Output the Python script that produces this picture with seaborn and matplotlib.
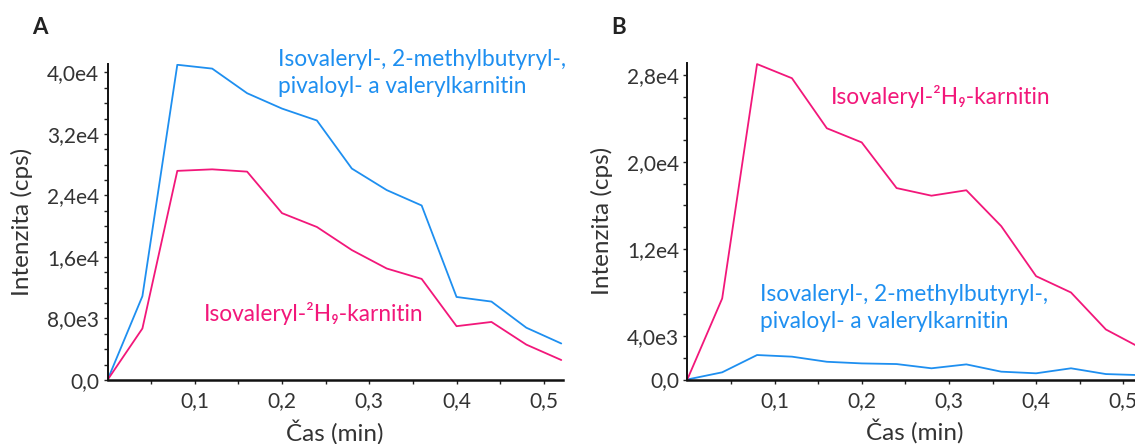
import numpy as np
import pandas as pd
import matplotlib
matplotlib.use("Agg")
import matplotlib.pyplot as plt
from matplotlib.ticker import FixedLocator, FuncFormatter
import seaborn as sns

# Sampling times (min)
time_min = [0.00, 0.04, 0.08, 0.12, 0.16, 0.20, 0.24, 0.28, 0.32, 0.36, 0.40, 0.44, 0.48, 0.52]

# Panel A intensities (cps)
a_unlabeled = [0, 10.9e3, 41.0e3, 40.5e3, 37.3e3, 35.3e3, 33.75e3, 27.5e3, 24.7e3, 22.7e3,
               10.8e3, 10.2e3, 6.8e3, 4.75e3]
a_labeled = [0, 6.7e3, 27.2e3, 27.4e3, 27.1e3, 21.7e3, 19.9e3, 16.9e3, 14.5e3, 13.15e3,
             7.0e3, 7.55e3, 4.6e3, 2.6e3]

# Panel B intensities (cps)
b_labeled = [0, 7.45e3, 29.0e3, 27.7e3, 23.1e3, 21.8e3, 17.6e3, 16.9e3, 17.4e3, 14.1e3,
             9.5e3, 8.0e3, 4.6e3, 2.9e3]
b_unlabeled = [0, 0.66e3, 2.25e3, 2.1e3, 1.63e3, 1.48e3, 1.42e3, 1.03e3, 1.39e3, 0.72e3,
               0.57e3, 1.03e3, 0.5e3, 0.4e3]

series_unlabeled = "Isovaleryl-, 2-methylbutyryl-,\npivaloyl- a valerylkarnitin"
series_labeled = "Isovaleryl-²H₉-karnitin"

a_yticks = [0, 8e3, 16e3, 24e3, 32e3, 40e3]
b_yticks = [0, 4e3, 12e3, 20e3, 28e3]
x_ticks = [0.1, 0.2, 0.3, 0.4, 0.5]

BLUE = "#1e8ff0"
PINK = "#f2177a"
TEXT = "#333333"
FAMILY = ["Lato", "DejaVu Sans"]

sns.set_theme(style="ticks")
plt.rcParams["font.family"] = FAMILY


def sci_comma(v, pos=None):
    if abs(v) < 1e-9:
        return "0,0"
    exp = int(np.floor(np.log10(abs(v))))
    mant = v / 10 ** exp
    return f"{mant:.1f}e{exp}".replace(".", ",")


def dec_comma(v, pos=None):
    return f"{v:.1f}".replace(".", ",")


def make_frame(unlabeled, labeled):
    return pd.concat([
        pd.DataFrame({"t": time_min, "y": unlabeled, "s": "unlabeled"}),
        pd.DataFrame({"t": time_min, "y": labeled, "s": "labeled"}),
    ], ignore_index=True)


fig = plt.figure(figsize=(11.35, 4.44), dpi=100)
W, H = 1135, 444


def add_axes(left, right, top, bottom):
    return fig.add_axes([left / W, 1 - bottom / H, (right - left) / W, (bottom - top) / H])


ax_a = add_axes(107.5, 563.0, 64.0, 380.0)
ax_b = add_axes(687.3, 1142.5, 63.0, 379.5)

palette = {"unlabeled": BLUE, "labeled": PINK}

for ax, df, ylim, yticks in [
    (ax_a, make_frame(a_unlabeled, a_labeled), (0, 41.1e3), a_yticks),
    (ax_b, make_frame(b_unlabeled, b_labeled), (0, 29.1e3), b_yticks),
]:
    sns.lineplot(data=df, x="t", y="y", hue="s", palette=palette, ax=ax,
                 legend=False, linewidth=1.3, estimator=None, sort=False)
    ax.set_xlim(0, 0.522)
    ax.set_ylim(*ylim)
    ax.xaxis.set_major_locator(FixedLocator(x_ticks))
    ax.xaxis.set_minor_locator(FixedLocator([0.05, 0.15, 0.25, 0.35, 0.45]))
    ax.yaxis.set_major_locator(FixedLocator(yticks))
    ax.yaxis.set_minor_locator(FixedLocator(np.arange(0, ylim[1], 2e3)))
    ax.xaxis.set_major_formatter(FuncFormatter(dec_comma))
    ax.yaxis.set_major_formatter(FuncFormatter(sci_comma))
    ax.tick_params(which="both", direction="out", length=3, width=1, color="#222222",
                   labelsize=15, labelcolor=TEXT, pad=3)
    ax.tick_params(axis="x", which="major", pad=5)
    sns.despine(ax=ax)
    ax.spines["left"].set_linewidth(1.4)
    ax.spines["bottom"].set_linewidth(1.8)
    ax.spines["left"].set_color("#111111")
    ax.spines["bottom"].set_color("#111111")
    ax.set_xlabel("Čas (min)", fontsize=17.5, color=TEXT, labelpad=6)
    ax.set_ylabel("Intenzita (cps)", fontsize=17.5, color=TEXT, labelpad=10)
    ax.set_facecolor("white")

# Series labels
fig.text(278 / W, 1 - 73 / H, series_unlabeled, fontsize=16.3, color=BLUE,
         va="center", ha="left", linespacing=1.3, family=FAMILY)
fig.text(204 / W, 1 - 313 / H, series_labeled, fontsize=16.3, color=PINK,
         va="center", ha="left", family=FAMILY)
fig.text(831 / W, 1 - 97 / H, series_labeled, fontsize=16.3, color=PINK,
         va="center", ha="left", family=FAMILY)
fig.text(760 / W, 1 - 308 / H, series_unlabeled, fontsize=16.3, color=BLUE,
         va="center", ha="left", linespacing=1.3, family=FAMILY)

# Panel letters
fig.text(40 / W, 1 - 27 / H, "A", fontsize=16, fontweight="bold", color="#222222",
         va="center", ha="center")
fig.text(619 / W, 1 - 27 / H, "B", fontsize=16, fontweight="bold", color="#222222",
         va="center", ha="center")

fig.savefig("out.png", dpi=100, facecolor="white")
